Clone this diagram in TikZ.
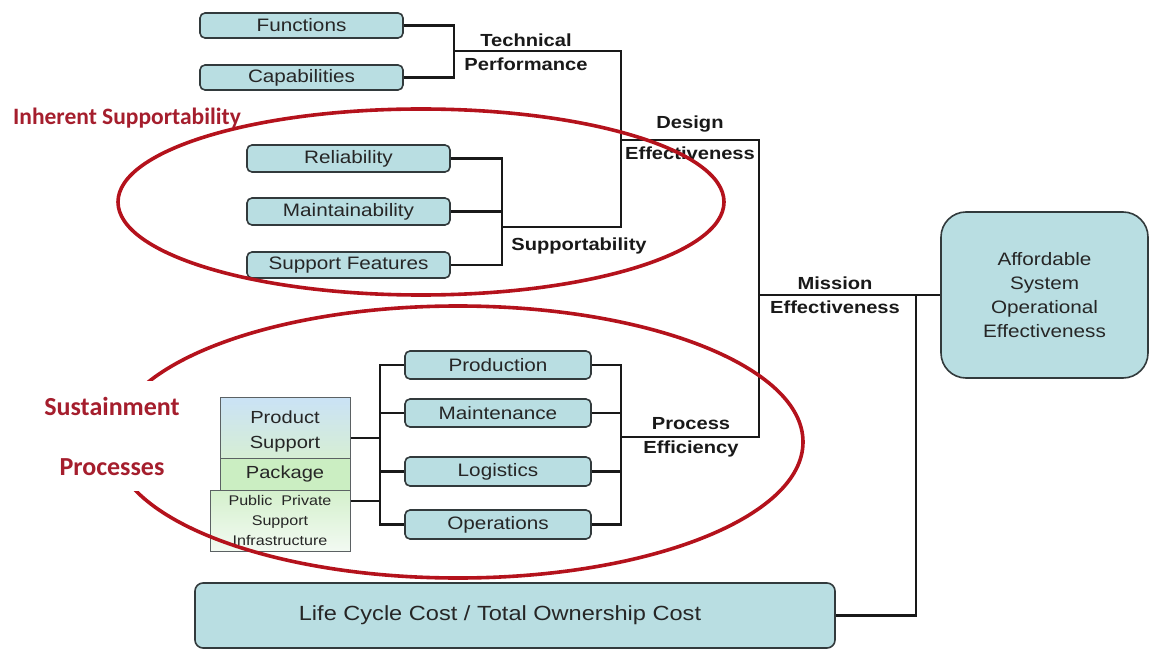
\documentclass[tikz,border=0pt]{standalone}
\usepackage{fontspec}
\setmainfont{Liberation Sans}[FakeStretch=1.15]
\newfontfamily\redfont{Carlito}
\usetikzlibrary{shapes.geometric}
\definecolor{boxfill}{RGB}{185,222,226}
\definecolor{boxline}{RGB}{50,58,60}
\definecolor{ellred}{RGB}{180,18,28}
\definecolor{txtred}{RGB}{165,30,45}
\definecolor{psblue}{RGB}{202,226,246}
\definecolor{psgreen}{RGB}{214,238,212}
\definecolor{pkgreen}{RGB}{203,238,194}
\definecolor{ppitop}{RGB}{212,240,204}
\definecolor{ppibot}{RGB}{242,250,242}
\begin{document}
\begin{tikzpicture}[x=1pt,y=-1pt,
  bx/.style={draw=boxline, line width=1.6pt, fill=boxfill, rounded corners=5pt, inner sep=0pt,
    font=\fontsize{18}{20}\selectfont, text=black!85},
  conn/.style={line width=2.6pt, draw=black!90},
  lbl/.style={font=\bfseries\fontsize{17.5}{24}\selectfont, align=center, inner sep=0pt, text=black!90},
  ell/.style={draw=ellred, line width=3.6pt},
  redlbl/.style={text=txtred, font=\redfont\bfseries, inner sep=0pt},
  pkbox/.style={draw=boxline!80, line width=1pt, inner sep=0pt, align=center, text=black!85}]
\useasboundingbox (0,0) rectangle (1150,652);
% technical performance group
\node[bx, minimum width=203pt, minimum height=25pt] (fun) at (301.5,25.5) {Functions};
\node[bx, minimum width=203pt, minimum height=25pt] (cap) at (301.5,77.5) {Capabilities};
% supportability group
\node[bx, minimum width=203pt, minimum height=27pt] (rel) at (348.5,158.5) {Reliability};
\node[bx, minimum width=203pt, minimum height=27pt] (mai) at (348.5,211.5) {Maintainability};
\node[bx, minimum width=203pt, minimum height=26pt] (sfe) at (348.5,265) {Support Features};
% processes
\node[bx, minimum width=186pt, minimum height=28pt] (prod) at (498,365) {Production};
\node[bx, minimum width=186pt, minimum height=28pt] (mnt) at (498,413) {Maintenance};
\node[bx, minimum width=186pt, minimum height=29pt] (logi) at (498,471.5) {Logistics};
\node[bx, minimum width=186pt, minimum height=29pt] (ops) at (498,524.5) {Operations};
% product support package
\node[pkbox, minimum width=130pt, minimum height=61pt, top color=psblue, bottom color=psgreen] (ps) at (285,427.5) {};
\node[inner sep=0pt, align=center, text=black!85, font=\fontsize{17.5}{25}\selectfont] (pst) at (285,431.5) {Product\\Support};
\node[pkbox, minimum width=130pt, minimum height=32pt, fill=pkgreen,
  font=\fontsize{17.5}{20}\selectfont] (pk) at (285,474) {\raisebox{2pt}{Package}};
\node[pkbox, minimum width=140pt, minimum height=61pt, top color=ppitop, bottom color=ppibot,
  font=\fontsize{14}{20}\selectfont] (ppi) at (280,520.5) {Public~ Private\\Support\\Infrastructure};
% outcome boxes
\node[bx, rounded corners=25pt, minimum width=207pt, minimum height=166pt, align=center,
  font=\fontsize{18}{24}\selectfont] (aff) at (1044.5,295) {Affordable\\System\\Operational\\Effectiveness};
\node[bx, rounded corners=8pt, minimum width=640pt, minimum height=65pt,
  font=\fontsize{20.5}{24}\selectfont] (lcc) at (515,615.5)
  {\hspace*{-30pt}Life Cycle Cost / Total Ownership Cost};
% junction coordinates
\coordinate (tp) at (454,51);
\coordinate (dej) at (621,140);
\coordinate (suj) at (502,227);
\coordinate (me) at (759,295);
\coordinate (pej) at (621,437);
\coordinate (mj) at (916,295);
\coordinate (lv) at (380,365);
% connectors
\draw[conn] (fun.east) -| (tp) |- (cap.east);
\draw[conn] (tp) -| (dej) |- (suj);
\draw[conn] (rel.east) -| (suj) |- (sfe.east);
\draw[conn] (mai.east) -- (mai.east -| suj);
\draw[conn] (dej) -| (me) |- (pej);
\draw[conn] (me) -- (aff.west);
\draw[conn] (mj) |- (lcc.east);
\draw[conn] (prod.east) -| (pej) |- (ops.east);
\draw[conn] (mnt.east) -- (mnt.east -| pej);
\draw[conn] (logi.east) -- (logi.east -| pej);
\draw[conn] (prod.west) -| (lv |- ops.west) -- (ops.west);
\draw[conn] (mnt.west) -- (mnt.west -| lv);
\draw[conn] (logi.west) -- (logi.west -| lv);
\draw[conn] ([yshift=-10.5pt]ps.east) -- ([yshift=-10.5pt]ps.east -| lv);
\draw[conn] ([yshift=19.5pt]ppi.east) -- ([yshift=19.5pt]ppi.east -| lv);
% labels
\node[lbl] (tpl) at (526,52) {Technical\\Performance};
\node[lbl] (del) at (690,137.5) {Design\\[7pt]Effectiveness};
\node[lbl] (sul) at (579,246) {Supportability};
\node[lbl] (mel) at (835,295) {Mission\\Effectiveness};
\node[lbl] (pel) at (691,437) {Process\\Efficiency};
% red ellipses
\draw[ell] (421,202) ellipse [x radius=303pt, y radius=93pt];
\draw[ell] (458,442) ellipse [x radius=345pt, y radius=136pt];
% red labels
\node[redlbl, font=\redfont\bfseries\fontsize{23.5}{26}\selectfont] (inh) at (127,118) {Inherent Supportability};
\node[redlbl, fill=white, minimum width=135pt, minimum height=110pt, align=center,
  font=\redfont\bfseries\fontsize{26}{31}\selectfont] (sus) at (112,436) {Sustainment\\[29pt]Processes};
\end{tikzpicture}
\end{document}
